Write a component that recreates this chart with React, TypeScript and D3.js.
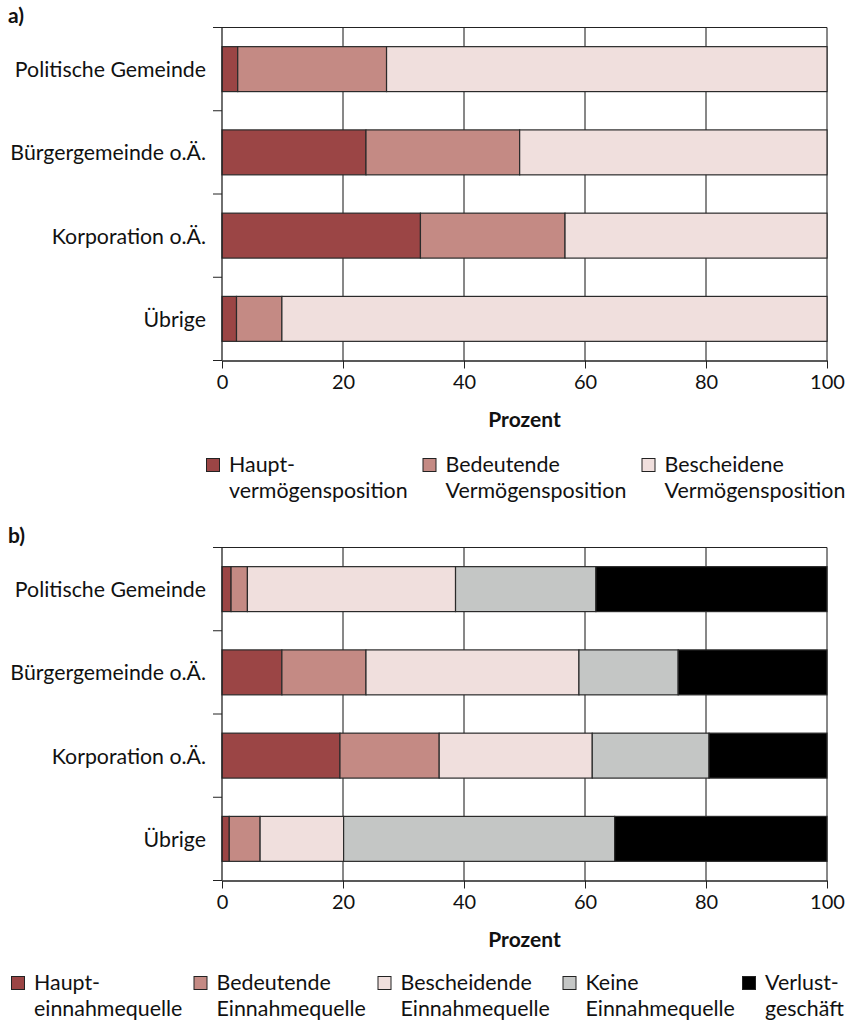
import { useEffect, useRef } from "react";
import * as d3 from "d3";

const CATEGORIES = ["Politische Gemeinde", "Bürgergemeinde o.Ä.", "Korporation o.Ä.", "Übrige"];
const X_TICKS = [0, 20, 40, 60, 80, 100];

// a) Vermögensposition
const A_KEYS = ["haupt", "bedeutend", "bescheiden"];
const A_HAUPT = [2.6, 23.8, 32.8, 2.4];
const A_BEDEUTEND = [24.6, 25.4, 23.9, 7.5];
const A_BESCHEIDEN = [72.8, 50.8, 43.3, 90.1];
const A_LEGEND = [
  ["Haupt-", "vermögensposition"],
  ["Bedeutende", "Vermögensposition"],
  ["Bescheidene", "Vermögensposition"]
];

// b) Einnahmequelle
const B_KEYS = ["haupt", "bedeutend", "bescheiden", "keine", "verlust"];
const B_HAUPT = [1.5, 9.9, 19.5, 1.2];
const B_BEDEUTEND = [2.7, 13.9, 16.4, 5.1];
const B_BESCHEIDEN = [34.4, 35.2, 25.3, 13.8];
const B_KEINE = [23.2, 16.4, 19.3, 44.8];
const B_VERLUST = [38.2, 24.6, 19.5, 35.1];
const B_LEGEND = [
  ["Haupt-", "einnahmequelle"],
  ["Bedeutende", "Einnahmequelle"],
  ["Bescheidende", "Einnahmequelle"],
  ["Keine", "Einnahmequelle"],
  ["Verlust-", "geschäft"]
];

const COLORS = ["#9b4545", "#c48a84", "#f0dfdd", "#c4c6c5", "#000000"];
const FONT = "Lato, 'Open Sans', sans-serif";

type Panel = {
  label: string;
  top: number;
  keys: string[];
  values: number[][];
  legend: string[][];
  legendX: number[];
  legendY: number;
};

function drawPanel(svg: d3.Selection<SVGSVGElement, unknown, null, undefined>, p: Panel) {
  const left = 222;
  const right = 827;
  const top = p.top;
  const bottom = top + 333;

  const x = d3.scaleLinear().domain([0, 100]).range([left, right]);
  const y = d3
    .scaleBand<string>()
    .domain(CATEGORIES)
    .range([top, bottom])
    .paddingInner(0.46)
    .paddingOuter(0.23);

  const rows = CATEGORIES.map((c, i) => {
    const r: Record<string, any> = { cat: c };
    p.keys.forEach((k, j) => (r[k] = p.values[j][i]));
    return r;
  });
  const stacked = d3.stack<any>().keys(p.keys)(rows);

  const g = svg.append("g");

  g.append("text")
    .attr("x", 8)
    .attr("y", top - 5)
    .attr("font-family", FONT)
    .attr("font-weight", "bold")
    .attr("font-size", 21)
    .attr("fill", "#111")
    .text(p.label);

  // gridlines
  g.append("g")
    .selectAll("line")
    .data(X_TICKS.slice(1))
    .enter()
    .append("line")
    .attr("x1", (d) => x(d))
    .attr("x2", (d) => x(d))
    .attr("y1", top)
    .attr("y2", bottom)
    .attr("stroke", "#111")
    .attr("stroke-width", 1);

  // top border
  g.append("line")
    .attr("x1", left - 9)
    .attr("x2", right)
    .attr("y1", top)
    .attr("y2", top)
    .attr("stroke", "#222");

  // bars
  stacked.forEach((layer, j) => {
    g.append("g")
      .selectAll("rect")
      .data(layer)
      .enter()
      .append("rect")
      .attr("x", (d) => x(d[0]))
      .attr("width", (d) => x(d[1]) - x(d[0]))
      .attr("y", (d) => y(d.data.cat)!)
      .attr("height", y.bandwidth())
      .attr("fill", COLORS[j])
      .attr("stroke", "#2a2a2a")
      .attr("stroke-width", 1.2);
  });

  // y axis
  g.append("line")
    .attr("x1", left)
    .attr("x2", left)
    .attr("y1", top)
    .attr("y2", bottom)
    .attr("stroke", "#222")
    .attr("stroke-width", 1.3);
  const bounds = d3.range(CATEGORIES.length + 1).map((i) => top + i * y.step());
  g.append("g")
    .selectAll("line")
    .data(bounds)
    .enter()
    .append("line")
    .attr("x1", left - 9)
    .attr("x2", left)
    .attr("y1", (d) => d)
    .attr("y2", (d) => d)
    .attr("stroke", "#222");

  g.append("g")
    .selectAll("text")
    .data(CATEGORIES)
    .enter()
    .append("text")
    .attr("x", 206)
    .attr("y", (d) => y(d)! + y.bandwidth() / 2 + 8)
    .attr("text-anchor", "end")
    .attr("font-family", FONT)
    .attr("font-size", 21.3)
    .attr("fill", "#111")
    .text((d) => d);

  // x axis
  const ax = g
    .append("g")
    .attr("transform", `translate(0,${bottom})`)
    .call(d3.axisBottom(x).tickValues(X_TICKS).tickSize(8).tickSizeOuter(0).tickPadding(6));
  ax.select(".domain").attr("stroke", "#222").attr("stroke-width", 1.3);
  ax.selectAll("line").attr("stroke", "#222");
  ax.selectAll("text").attr("font-family", FONT).attr("font-size", 20).attr("fill", "#111");

  g.append("text")
    .attr("x", (left + right) / 2)
    .attr("y", bottom + 66)
    .attr("text-anchor", "middle")
    .attr("font-family", FONT)
    .attr("font-weight", "bold")
    .attr("font-size", 21)
    .attr("fill", "#111")
    .text("Prozent");

  // legend
  const lg = g.append("g");
  p.legend.forEach((lines, j) => {
    const lx = p.legendX[j];
    lg.append("rect")
      .attr("x", lx)
      .attr("y", p.legendY - 13.5)
      .attr("width", 13)
      .attr("height", 13)
      .attr("fill", COLORS[j])
      .attr("stroke", "#222")
      .attr("stroke-width", 1);
    lines.forEach((t, k) => {
      lg.append("text")
        .attr("x", lx + 22.5)
        .attr("y", p.legendY + k * 26)
        .attr("font-family", FONT)
        .attr("font-size", 21.4)
        .attr("fill", "#111")
        .text(t);
    });
  });
}

export default function App() {
  const ref = useRef<SVGSVGElement>(null);

  useEffect(() => {
    if (!ref.current) return;
    const svg = d3.select(ref.current);
    svg.selectAll("*").remove();
    drawPanel(svg, {
      label: "a)",
      top: 27.5,
      keys: A_KEYS,
      values: [A_HAUPT, A_BEDEUTEND, A_BESCHEIDEN],
      legend: A_LEGEND,
      legendX: [206.5, 423, 642],
      legendY: 472
    });
    drawPanel(svg, {
      label: "b)",
      top: 547.5,
      keys: B_KEYS,
      values: [B_HAUPT, B_BEDEUTEND, B_BESCHEIDEN, B_KEINE, B_VERLUST],
      legend: B_LEGEND,
      legendX: [11.5, 194, 378, 563, 742.5],
      legendY: 990
    });
  }, []);

  return (
    <div style={{ position: "absolute", left: 0, top: 0, background: "#fff" }}>
      <svg ref={ref} width={846} height={1022} style={{ display: "block" }} />
    </div>
  );
}
